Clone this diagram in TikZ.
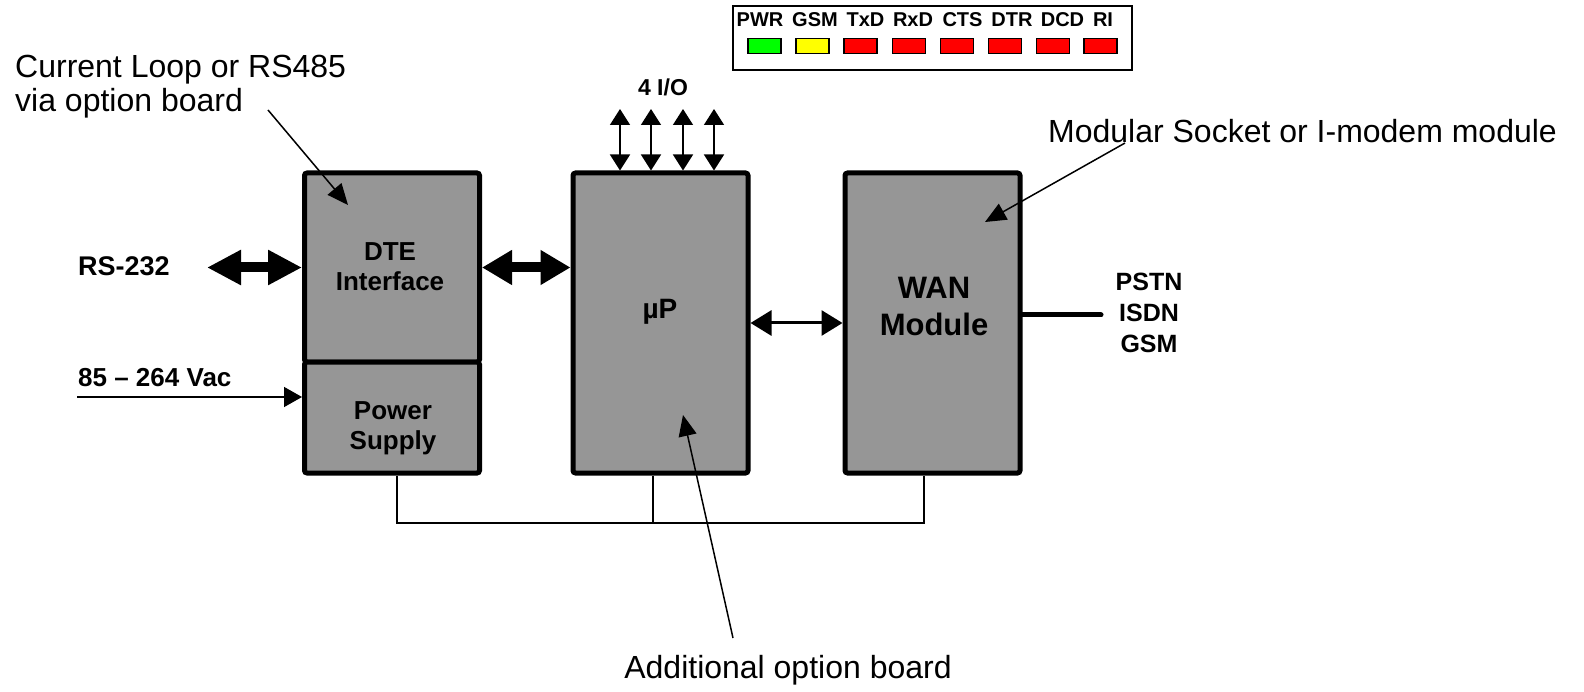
\documentclass[tikz,border=0pt]{standalone}
\usepackage{fontspec}
\setmainfont{Liberation Sans}
\usetikzlibrary{arrows.meta}
\definecolor{boxgray}{RGB}{150,150,150}
\definecolor{ledgreen}{RGB}{0,255,0}
\definecolor{ledyellow}{RGB}{255,255,0}
\definecolor{ledred}{RGB}{255,0,0}
\begin{document}
\begin{tikzpicture}[x=1pt,y=-1pt,
  box/.style={draw=black, line width=5pt, fill=boxgray, rounded corners=2.5pt, inner sep=0pt, minimum width=175pt},
  btxt/.style={inner sep=0pt, anchor=base, font=\bfseries\fontsize{#1}{#1}\selectfont},
  callout/.style={inner sep=0pt, anchor=base, font=\fontsize{32}{34}\selectfont},
  led/.style={draw=black, line width=1.5pt, minimum width=33pt, minimum height=15pt, inner sep=0pt},
  thinarr/.style={line width=1.5pt, -{Triangle[length=21pt,width=18pt]}},
  vacarr/.style={line width=1.5pt, -{Triangle[length=18pt,width=20pt]}},
  ioarr/.style={line width=1.5pt, {Triangle[length=16pt,width=20pt]}-{Triangle[length=16pt,width=20pt]}},
  bigarr/.style={line width=10pt, {Triangle[length=#1,width=33pt]}-{Triangle[length=#1,width=33pt]}},
  midarr/.style={line width=3pt, {Triangle[length=21pt,width=25pt]}-{Triangle[length=21pt,width=25pt]}},
  bus/.style={line width=1.5pt}
]
\useasboundingbox (0,0) rectangle (1584,692);

% main boxes
\node[box, minimum height=189pt] (dte) at (392,267.5) {};
\node[box, minimum height=111pt] (psu) at (392,417.5) {};
\node[box, minimum height=300pt] (up) at (660.5,323) {};
\node[box, minimum height=300pt] (wan) at (932.5,323) {};

% box texts
\node[btxt=26] (dtet1) at (390,261) {DTE};
\node[btxt=26] (dtet2) at (390,291) {Interface};
\node[btxt=26] (psut1) at (393,419) {Power};
\node[btxt=26] (psut2) at (393,449) {Supply};
\node[btxt=28] (upt) at (660,319) {µP};
\node[btxt=31] (want1) at (934,299) {WAN};
\node[btxt=31] (want2) at (934,335) {Module};

% outside labels
\node[btxt=27, anchor=base west] (rs) at (78,276) {RS-232};
\node[btxt=26, anchor=base west] (vac) at (78,386) {85 – 264 Vac};
\node[btxt=25] (pstn) at (1149,291) {PSTN};
\node[btxt=25] (isdn) at (1149,321.5) {ISDN};
\node[btxt=25] (gsm) at (1149,352.5) {GSM};
\node[btxt=23] (io) at (663,96) {4 I/O};

% LED panel
\node[draw=black, line width=2pt, minimum width=399pt, minimum height=64pt, inner sep=0pt] (panel) at (932.5,38) {};
\foreach \n/\x/\c/\t/\lx in {1/764.5/ledgreen/PWR/760, 2/812.5/ledyellow/GSM/815, 3/860.5/ledred/TxD/865.5, 4/909/ledred/RxD/913, 5/957/ledred/CTS/962.5, 6/1005/ledred/DTR/1012, 7/1053/ledred/DCD/1062.5, 8/1100.5/ledred/RI/1103}
{
  \node[led, fill=\c] (led\n) at (\x,46) {};
  \node[btxt=20] (ledl\n) at (\lx,27) {\t};
}

% connectors
\coordinate (rsL) at (207,267.5);
\draw[bigarr=34pt] (rsL) -- (dte.west);
\draw[bigarr=30pt] (dte.east) -- (up.west |- dte.east);
\draw[midarr] (up.east) -- (wan.west);
\coordinate (pstnend) at (1101,315);
\draw[line width=5pt, line cap=round] (wan.east |- pstnend) -- (pstnend);
\coordinate (vacL) at (77,397);
\draw[vacarr] (vacL) -- (psu.west |- vacL);
\foreach \i/\x in {1/620,2/651,3/683,4/714}
{
  \coordinate (iot\i) at (\x,109);
  \draw[ioarr] (iot\i) -- (up.north -| iot\i);
}

% bus
\coordinate (busL) at (397,523);
\coordinate (busM) at (653,523);
\coordinate (busR) at (924,523);
\draw[bus] (psu.south -| busL) -- (busL) -- (busR) -- (wan.south -| busR);
\draw[bus] (up.south -| busM) -- (busM);

% callouts
\node[callout, anchor=base west] (cl1) at (15,78) {Current Loop or RS485};
\node[callout, anchor=base west] (cl2) at (15,112) {via option board};
\coordinate (cls) at (268,110);
\coordinate (cle) at (348,205);
\draw[thinarr] (cls) -- (cle);

\node[callout] (mod) at (1302.5,143) {Modular Socket or I-modem module};
\coordinate (mods) at (1125,143);
\coordinate (mode) at (985,222);
\draw[thinarr] (mods) -- (mode);

\node[callout] (add) at (788,678) {Additional option board};
\coordinate (adds) at (733,638);
\coordinate (adde) at (683,415);
\draw[thinarr] (adds) -- (adde);
\end{tikzpicture}
\end{document}
